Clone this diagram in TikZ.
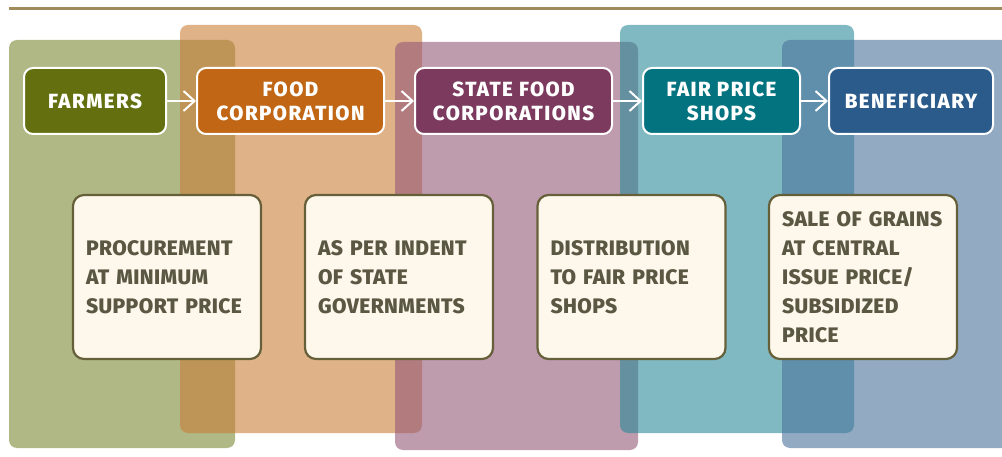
\documentclass[tikz,border=0pt]{standalone}
\usepackage{fontspec}
\IfFontExistsTF{Fira Sans ExtraBold}{%
  \setmainfont{Fira Sans}[BoldFont={Fira Sans ExtraBold}]
  \newfontfamily\headfont{Fira Sans}[BoldFont={Fira Sans ExtraBold},LetterSpace=7]
  \newfontfamily\notefont{Fira Sans}[BoldFont={Fira Sans ExtraBold},LetterSpace=2]
}{%
  \setmainfont{Fira Sans}
  \newfontfamily\headfont{Fira Sans}[LetterSpace=8]
  \newfontfamily\notefont{Fira Sans}[LetterSpace=2]
}
\usetikzlibrary{arrows.meta}

\definecolor{rule}{HTML}{A08C5B}
\definecolor{farmgreen}{HTML}{7B8935}
\definecolor{foodorange}{HTML}{CA7F39}
\definecolor{statepurple}{HTML}{945878}
\definecolor{shopteal}{HTML}{2B8A98}
\definecolor{benefblue}{HTML}{49739B}
\definecolor{farmhead}{HTML}{647010}
\definecolor{foodhead}{HTML}{C06615}
\definecolor{statehead}{HTML}{7B3A5E}
\definecolor{shophead}{HTML}{037380}
\definecolor{benefhead}{HTML}{2A5B8A}
\definecolor{cream}{HTML}{FEF8EC}
\definecolor{noteline}{HTML}{66603A}
\definecolor{notetext}{HTML}{5A5843}

\tikzset{
  panel/.style={fill=#1, fill opacity=0.6, rounded corners=8pt},
  head/.style={fill=#1, draw=white, line width=2pt, rounded corners=9pt,
    minimum height=66pt, align=center, text=white,
    font=\headfont\bfseries\fontsize{20.5}{24}\selectfont},
  note/.style={fill=cream, draw=noteline, line width=2.2pt, rounded corners=11pt,
    minimum height=164pt, text width=162pt, inner xsep=13pt, align=left,
    text=notetext, font=\notefont\bfseries\fontsize{21}{29}\selectfont},
  flow/.style={draw=white, line width=2pt,
    -{Straight Barb[length=11pt,width=20pt,line width=2pt]}}
}

\begin{document}
\begin{tikzpicture}[x=1pt,y=-1pt]
\useasboundingbox (0,0) rectangle (1002,457);
\draw[rule, line width=3pt] (9,9) -- (1002,9);

% coloured panels
\fill[panel=farmgreen] (9,40) rectangle (235,448);
\fill[panel=foodorange] (180,25) rectangle (422,433);
\fill[panel=statepurple] (395,42) rectangle (638,450);
\fill[panel=shopteal] (620,25) rectangle (854,433);
\fill[panel=benefblue] (782,40) rectangle (1010,448);

% heads
\node[head=farmhead, minimum width=142pt] (farmers) at (95,101) {FARMERS};
\node[head=foodhead, minimum width=187pt] (food) at (290.5,101) {FOOD\\CORPORATION};
\node[head=statehead, minimum width=197pt] (state) at (513.5,101) {STATE FOOD\\CORPORATIONS};
\node[head=shophead, minimum width=157pt] (shops) at (721.5,101) {FAIR PRICE\\SHOPS};
\node[head=benefhead, minimum width=164pt] (benef) at (911,101) {BENEFICIARY};

\draw[flow] (farmers) -- (food);
\draw[flow] (food) -- (state);
\draw[flow] (state) -- (shops);
\draw[flow] (shops) -- (benef);

% notes
\node[note] (procure) at (167,277) {PROCUREMENT\\AT MINIMUM\\SUPPORT PRICE};
\node[note] (indent) at (399,277) {AS PER INDENT\\OF STATE\\GOVERNMENTS};
\node[note] (distrib) at (631.5,277) {DISTRIBUTION\\TO FAIR PRICE\\SHOPS};
\node[note] (sale) at (863,277) {SALE OF GRAINS\\AT CENTRAL\\ISSUE PRICE/\\SUBSIDIZED\\PRICE};
\end{tikzpicture}
\end{document}
